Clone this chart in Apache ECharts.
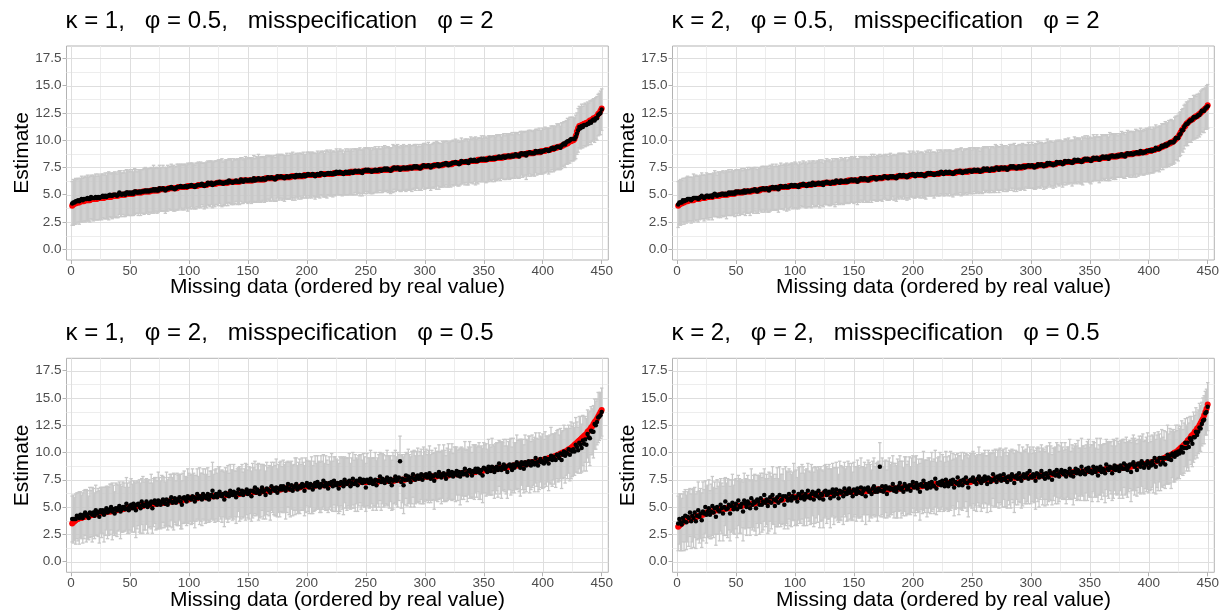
<!DOCTYPE html>
<html>
<head>
<meta charset="utf-8">
<script src="https://cdn.jsdelivr.net/npm/echarts@6/dist/echarts.min.js"></script>
<style>
html, body { margin: 0; padding: 0; background: #ffffff; }
#chart { width: 1231px; height: 612px; }
</style>
</head>
<body>
<div id="chart"></div>
<script>
// Panel headings
const panelTitles = [
  'κ = 1,   φ = 0.5,   misspecification   φ = 2',
  'κ = 2,   φ = 0.5,   misspecification   φ = 2',
  'κ = 1,   φ = 2,   misspecification   φ = 0.5',
  'κ = 2,   φ = 2,   misspecification   φ = 0.5'
];
const xTitle = 'Missing data (ordered by real value)';
const yTitle = 'Estimate';

// Tick positions (labelled) and minor grid positions
const xTicks = [0, 50, 100, 150, 200, 250, 300, 350, 400, 450];
const xMinorTicks = [25, 75, 125, 175, 225, 275, 325, 375, 425];
const yTicks = [0, 2.5, 5, 7.5, 10, 12.5, 15, 17.5];
const yMinorTicks = [1.25, 3.75, 6.25, 8.75, 11.25, 13.75, 16.25];

// ---- kappa = 1, phi = 0.5 ----
// real values of the 450 missing sites, in increasing order
const real1 = [
4.0,4.1,4.2,4.2,4.3,4.3,4.3,4.4,4.4,4.4,4.4,4.5,4.5,4.5,4.5,4.5,4.6,4.6,4.6,4.6,4.6,4.6,4.7,4.7,4.7,
4.7,4.7,4.7,4.8,4.8,4.8,4.8,4.8,4.8,4.9,4.9,4.9,4.9,4.9,4.9,5.0,5.0,5.0,5.0,5.0,5.0,5.1,5.1,5.1,5.1,
5.1,5.1,5.1,5.2,5.2,5.2,5.2,5.2,5.2,5.2,5.3,5.3,5.3,5.3,5.3,5.3,5.3,5.4,5.4,5.4,5.4,5.4,5.4,5.4,5.5,
5.5,5.5,5.5,5.5,5.5,5.5,5.5,5.6,5.6,5.6,5.6,5.6,5.6,5.6,5.6,5.7,5.7,5.7,5.7,5.7,5.7,5.7,5.7,5.8,5.8,
5.8,5.8,5.8,5.8,5.8,5.8,5.8,5.9,5.9,5.9,5.9,5.9,5.9,5.9,5.9,6.0,6.0,6.0,6.0,6.0,6.0,6.0,6.0,6.1,6.1,
6.1,6.1,6.1,6.1,6.1,6.1,6.1,6.1,6.2,6.2,6.2,6.2,6.2,6.2,6.2,6.2,6.2,6.2,6.3,6.3,6.3,6.3,6.3,6.3,6.3,
6.3,6.3,6.3,6.3,6.4,6.4,6.4,6.4,6.4,6.4,6.4,6.4,6.4,6.4,6.5,6.5,6.5,6.5,6.5,6.5,6.5,6.5,6.5,6.5,6.6,
6.6,6.6,6.6,6.6,6.6,6.6,6.6,6.6,6.6,6.6,6.6,6.7,6.7,6.7,6.7,6.7,6.7,6.7,6.7,6.7,6.7,6.7,6.8,6.8,6.8,
6.8,6.8,6.8,6.8,6.8,6.8,6.8,6.8,6.8,6.8,6.8,6.9,6.9,6.9,6.9,6.9,6.9,6.9,6.9,6.9,6.9,6.9,7.0,7.0,7.0,
7.0,7.0,7.0,7.0,7.0,7.0,7.0,7.0,7.0,7.0,7.0,7.1,7.1,7.1,7.1,7.1,7.1,7.1,7.1,7.1,7.1,7.1,7.2,7.2,7.2,
7.2,7.2,7.2,7.2,7.2,7.2,7.2,7.2,7.2,7.2,7.2,7.3,7.3,7.3,7.3,7.3,7.3,7.3,7.3,7.3,7.3,7.3,7.4,7.4,7.4,
7.4,7.4,7.4,7.4,7.4,7.4,7.4,7.4,7.4,7.4,7.4,7.5,7.5,7.5,7.5,7.5,7.5,7.5,7.5,7.5,7.5,7.5,7.6,7.6,7.6,
7.6,7.6,7.6,7.6,7.6,7.6,7.6,7.7,7.7,7.7,7.7,7.7,7.7,7.7,7.7,7.8,7.8,7.8,7.8,7.8,7.8,7.8,7.8,7.9,7.9,
7.9,7.9,7.9,7.9,7.9,8.0,8.0,8.0,8.0,8.0,8.0,8.0,8.1,8.1,8.1,8.1,8.1,8.1,8.1,8.2,8.2,8.2,8.2,8.2,8.2,
8.2,8.2,8.3,8.3,8.3,8.3,8.3,8.3,8.3,8.4,8.4,8.4,8.4,8.4,8.4,8.4,8.5,8.5,8.5,8.5,8.5,8.5,8.5,8.6,8.6,
8.6,8.6,8.6,8.6,8.6,8.7,8.7,8.7,8.7,8.7,8.7,8.8,8.8,8.8,8.8,8.8,8.8,8.9,8.9,8.9,8.9,8.9,8.9,9.0,9.0,
9.0,9.0,9.1,9.1,9.1,9.1,9.2,9.2,9.2,9.3,9.3,9.3,9.4,9.4,9.4,9.5,9.5,9.6,9.6,9.7,9.7,9.8,9.9,9.9,10.0,
10.0,10.1,10.4,10.8,11.1,11.3,11.3,11.4,11.4,11.5,11.5,11.6,11.6,11.7,11.8,11.8,11.9,12.0,12.0,12.1,12.2,12.4,12.5,12.7,12.9
];
// estimate minus real value, in tenths
const resid1 = [
2,2,1,2,1,2,1,1,2,1,2,1,1,2,1,1,2,1,1,1,2,1,1,0,1,
1,2,1,1,0,1,1,2,1,0,1,1,1,0,1,2,1,0,1,1,0,1,1,0,1,
0,1,0,1,1,0,0,1,0,1,0,0,1,0,1,0,1,0,0,1,0,1,0,0,1,
0,0,1,0,-1,0,1,0,0,1,0,0,-1,0,1,0,0,1,0,0,0,1,0,-1,0,
0,1,0,0,-1,0,1,0,0,0,1,0,-1,0,0,1,0,0,1,-1,0,0,1,0,0,
1,0,0,-1,0,0,1,0,1,0,0,-1,0,0,1,0,0,0,1,0,-1,0,1,0,0,
0,1,0,0,1,-1,0,0,1,0,0,0,1,0,-1,0,1,0,0,1,0,0,-1,0,1,
0,0,1,0,0,-1,0,1,0,0,1,0,0,0,-1,1,0,0,1,0,0,1,0,-1,0,
1,0,0,0,1,0,-1,0,1,0,0,1,0,0,-1,0,0,1,0,1,0,0,0,-1,1,
0,0,1,0,0,-1,0,1,0,1,0,0,0,-1,0,1,0,0,1,0,0,-1,0,0,1,
0,1,0,0,-1,0,0,1,0,0,1,0,-1,0,0,1,0,1,0,0,-1,0,0,1,0,
0,1,0,-1,0,0,1,0,0,1,0,0,0,-1,0,1,0,1,0,0,-1,0,0,1,0,
0,0,1,0,-1,0,1,0,0,0,1,-1,0,0,1,0,0,1,0,-1,0,0,1,0,0,
1,0,0,-1,0,1,0,0,0,1,0,-1,0,1,0,0,1,0,0,-1,0,0,1,0,1,
0,0,-1,0,1,0,0,1,0,-1,0,0,1,0,0,1,0,-1,0,0,1,0,0,0,-1,
0,1,0,0,-1,0,1,0,0,1,-1,0,0,1,0,0,0,-1,1,0,0,1,0,-1,0,
0,1,0,0,-1,0,0,1,0,-1,0,1,0,0,-1,0,1,1,0,1,2,1,1,2,1,
1,0,-1,-2,-2,-1,-2,-1,-2,-1,-1,-2,-1,-2,-1,-2,-1,-1,-2,-1,-2,-1,-1,-2,-1
];
// half length of each interval, in tenths
const half1 = [
20,21,20,21,20,20,21,20,21,20,20,21,20,21,20,21,20,20,21,20,21,20,21,20,20,
21,20,20,21,20,21,22,20,20,21,20,21,20,20,21,20,21,20,19,21,20,21,20,20,21,
20,21,20,21,20,19,21,20,21,20,20,21,21,20,20,21,20,21,20,22,20,20,21,20,21,
20,20,21,20,21,20,21,19,20,21,20,21,20,20,21,21,20,20,21,20,21,20,20,22,20,
21,20,21,20,20,21,20,21,20,21,19,20,21,20,21,20,20,21,20,21,20,21,20,20,21,
20,21,22,20,20,21,20,21,20,20,21,20,21,20,19,21,20,21,20,21,20,20,21,20,21,
20,20,21,20,21,20,21,20,22,20,21,20,20,21,20,21,20,20,21,19,20,21,20,21,20,
21,20,20,21,20,21,20,21,20,20,21,20,22,20,21,20,20,21,20,21,20,21,19,20,21,
20,21,20,21,20,20,21,20,21,20,21,20,20,21,20,21,22,20,20,21,20,21,20,20,21,
20,20,21,20,21,19,20,21,20,21,20,20,21,20,21,20,21,20,20,22,20,21,20,21,20,
21,20,20,21,20,21,20,21,20,20,21,19,20,21,20,21,20,20,21,20,21,20,22,20,21,
20,21,20,20,21,20,21,20,21,20,20,21,20,21,20,20,21,20,19,21,20,21,20,20,21,
20,20,21,20,21,20,20,21,20,22,20,21,20,20,21,20,21,20,21,20,20,21,20,21,20,
21,20,21,20,20,21,20,19,21,20,21,20,20,21,20,21,20,22,20,21,20,20,21,20,21,
20,21,20,21,20,20,21,20,21,20,21,20,20,21,19,20,21,20,21,20,20,21,20,21,20,
21,20,20,21,20,21,20,21,20,20,22,20,21,20,21,20,20,21,20,21,20,21,20,20,21,
20,21,20,20,21,20,21,20,21,20,20,21,20,21,20,21,20,20,21,20,21,20,21,20,20,
20,19,20,19,20,19,19,20,19,19,20,19,20,19,19,20,19,19,20,19,20,19,19,20,19
];

// ---- kappa = 2, phi = 0.5 ----
const real2 = [
4.0,4.1,4.2,4.2,4.3,4.3,4.4,4.4,4.4,4.5,4.5,4.5,4.5,4.5,4.6,4.6,4.6,4.6,4.6,4.7,4.7,4.7,4.7,4.7,4.8,
4.8,4.8,4.8,4.8,4.8,4.9,4.9,4.9,4.9,4.9,4.9,5.0,5.0,5.0,5.0,5.0,5.0,5.0,5.1,5.1,5.1,5.1,5.1,5.1,5.2,
5.2,5.2,5.2,5.2,5.2,5.2,5.3,5.3,5.3,5.3,5.3,5.3,5.3,5.4,5.4,5.4,5.4,5.4,5.4,5.4,5.5,5.5,5.5,5.5,5.5,
5.5,5.5,5.5,5.6,5.6,5.6,5.6,5.6,5.6,5.6,5.6,5.7,5.7,5.7,5.7,5.7,5.7,5.7,5.7,5.8,5.8,5.8,5.8,5.8,5.8,
5.8,5.8,5.8,5.8,5.9,5.9,5.9,5.9,5.9,5.9,5.9,5.9,5.9,5.9,6.0,6.0,6.0,6.0,6.0,6.0,6.0,6.0,6.0,6.0,6.1,
6.1,6.1,6.1,6.1,6.1,6.1,6.1,6.1,6.1,6.2,6.2,6.2,6.2,6.2,6.2,6.2,6.2,6.2,6.2,6.3,6.3,6.3,6.3,6.3,6.3,
6.3,6.3,6.3,6.3,6.4,6.4,6.4,6.4,6.4,6.4,6.4,6.4,6.4,6.4,6.5,6.5,6.5,6.5,6.5,6.5,6.5,6.5,6.5,6.5,6.6,
6.6,6.6,6.6,6.6,6.6,6.6,6.6,6.6,6.6,6.6,6.6,6.7,6.7,6.7,6.7,6.7,6.7,6.7,6.7,6.7,6.7,6.7,6.8,6.8,6.8,
6.8,6.8,6.8,6.8,6.8,6.8,6.8,6.8,6.8,6.8,6.8,6.9,6.9,6.9,6.9,6.9,6.9,6.9,6.9,6.9,6.9,6.9,7.0,7.0,7.0,
7.0,7.0,7.0,7.0,7.0,7.0,7.0,7.0,7.0,7.0,7.0,7.1,7.1,7.1,7.1,7.1,7.1,7.1,7.1,7.1,7.1,7.1,7.2,7.2,7.2,
7.2,7.2,7.2,7.2,7.2,7.2,7.2,7.2,7.2,7.3,7.3,7.3,7.3,7.3,7.3,7.3,7.3,7.3,7.3,7.4,7.4,7.4,7.4,7.4,7.4,
7.4,7.4,7.4,7.4,7.4,7.4,7.5,7.5,7.5,7.5,7.5,7.5,7.5,7.5,7.5,7.5,7.5,7.5,7.6,7.6,7.6,7.6,7.6,7.6,7.6,
7.6,7.6,7.6,7.6,7.6,7.7,7.7,7.7,7.7,7.7,7.7,7.7,7.7,7.8,7.8,7.8,7.8,7.8,7.8,7.8,7.8,7.9,7.9,7.9,7.9,
7.9,7.9,7.9,8.0,8.0,8.0,8.0,8.0,8.0,8.0,8.0,8.1,8.1,8.1,8.1,8.1,8.1,8.1,8.1,8.2,8.2,8.2,8.2,8.2,8.2,
8.2,8.2,8.3,8.3,8.3,8.3,8.3,8.3,8.3,8.4,8.4,8.4,8.4,8.4,8.4,8.4,8.5,8.5,8.5,8.5,8.5,8.5,8.5,8.6,8.6,
8.6,8.6,8.6,8.6,8.6,8.7,8.7,8.7,8.7,8.7,8.7,8.8,8.8,8.8,8.8,8.8,8.8,8.9,8.9,8.9,8.9,8.9,8.9,9.0,9.0,
9.0,9.0,9.1,9.1,9.1,9.2,9.2,9.2,9.3,9.3,9.4,9.4,9.5,9.5,9.6,9.6,9.7,9.7,9.8,9.8,9.9,10.0,10.1,10.2,10.3,
10.5,10.7,10.9,11.0,11.2,11.3,11.5,11.6,11.7,11.8,11.9,11.9,12.0,12.1,12.2,12.2,12.3,12.4,12.5,12.6,12.7,12.8,12.9,13.0,13.2
];
const resid2 = [
1,2,1,1,2,1,1,1,2,1,1,0,1,2,1,1,1,0,1,1,2,1,0,1,1,
1,0,1,1,0,1,2,1,0,1,1,0,1,1,0,1,0,1,1,0,1,0,1,0,1,
0,1,0,0,1,0,1,-1,0,1,0,0,1,0,0,1,0,-1,0,1,0,0,1,0,0,
1,0,-1,0,0,1,0,0,1,0,-1,0,1,0,0,0,1,0,0,-1,0,1,0,0,1,
0,0,-1,1,0,0,1,0,0,-1,0,1,0,0,1,0,-1,0,0,1,0,0,1,-1,0,
0,1,0,0,-1,0,1,0,0,1,0,0,-1,1,0,0,0,1,0,-1,0,0,1,0,0,
1,0,-1,0,0,1,0,0,1,0,0,-1,0,1,0,0,1,0,-1,0,0,1,0,0,0,
1,0,0,-1,0,1,0,1,0,0,-1,0,0,1,0,0,1,0,0,-1,0,1,0,0,1,
0,-1,0,1,0,0,1,0,0,-1,0,0,1,0,1,0,0,-1,0,0,1,0,0,1,0,
-1,0,1,0,0,1,0,0,-1,0,1,0,0,0,1,0,-1,0,0,1,0,1,0,0,-1,
0,1,0,0,1,0,-1,0,0,1,0,0,1,0,-1,0,1,0,0,0,1,0,-1,0,1,
0,0,1,0,-1,0,0,1,0,1,0,0,-1,0,1,0,0,1,0,-1,0,0,1,0,0,
1,0,-1,0,0,1,0,0,1,0,-1,0,0,1,0,1,0,0,-1,0,0,1,0,0,1,
0,-1,0,1,0,0,1,0,0,-1,0,1,0,0,1,0,0,-1,0,0,1,0,1,0,0,
-1,0,1,0,0,1,0,-1,0,0,1,0,0,1,0,-1,0,0,1,0,0,0,1,-1,0,
0,1,0,0,-1,0,1,0,0,1,0,-1,0,0,1,0,0,1,0,-1,0,0,1,0,0,
1,0,-1,0,0,1,0,0,-1,0,1,0,0,1,-1,0,0,1,0,0,-1,0,1,0,-1,
0,-1,0,-1,0,1,0,-1,0,0,-1,0,1,0,-1,0,0,-1,0,1,0,-1,0,0,-1
];
const half2 = [
21,20,21,20,20,21,20,21,21,20,20,21,20,22,20,21,20,21,20,20,21,20,21,20,21,
20,21,20,20,21,20,21,20,19,21,20,21,20,21,20,20,22,20,21,20,21,20,20,21,20,
21,20,21,20,21,20,20,21,20,21,20,22,20,20,21,20,21,20,21,19,20,21,20,21,20,
20,21,20,21,20,21,20,20,21,20,21,20,21,20,20,21,20,22,20,21,20,20,21,20,21,
21,20,20,21,19,20,21,20,21,20,20,21,20,21,20,21,20,20,21,20,22,20,21,20,20,
20,21,20,21,20,20,21,20,22,20,21,20,20,21,20,21,20,21,19,20,21,20,21,20,21,
21,20,21,20,21,20,20,21,20,21,20,20,21,20,22,20,21,20,20,21,20,21,20,21,20,
20,20,21,20,21,21,20,19,21,20,21,20,21,20,20,21,20,21,20,21,20,22,20,20,21,
21,20,20,21,20,21,20,21,20,20,22,20,21,20,21,20,20,21,20,19,21,20,21,20,20,
20,21,20,20,21,20,21,20,21,20,20,21,20,21,20,22,20,21,20,20,21,20,21,21,20,
21,20,21,20,20,21,19,20,21,20,21,20,20,21,20,21,20,21,20,22,20,20,21,20,21,
20,21,20,21,20,20,21,20,21,20,22,20,21,20,20,21,20,21,20,21,19,20,21,20,20,
21,20,20,21,20,21,20,21,20,20,21,20,21,22,20,20,21,20,21,20,21,20,20,21,20,
20,21,20,20,21,20,21,20,19,21,20,21,20,21,20,20,21,20,22,20,21,20,21,20,21,
21,20,21,20,20,21,20,21,20,21,20,20,21,20,21,20,22,20,20,21,20,21,20,19,20,
20,21,20,21,20,20,21,20,21,20,21,20,20,22,20,21,20,21,20,20,21,20,21,20,21,
21,20,20,21,20,21,20,20,21,20,20,21,20,21,20,20,21,20,21,20,20,21,20,20,21,
20,20,19,20,20,19,20,20,19,20,20,19,20,20,19,20,19,20,20,19,20,20,19,20,20
];

// ---- kappa = 1, phi = 2 ----
const real3 = [
3.5,3.6,3.7,3.8,3.9,3.9,4.0,4.0,4.0,4.1,4.1,4.1,4.2,4.2,4.2,4.2,4.3,4.3,4.3,4.3,4.4,4.4,4.4,4.4,4.5,
4.5,4.5,4.5,4.5,4.6,4.6,4.6,4.6,4.6,4.7,4.7,4.7,4.7,4.7,4.8,4.8,4.8,4.8,4.8,4.9,4.9,4.9,4.9,4.9,5.0,
5.0,5.0,5.0,5.0,5.0,5.1,5.1,5.1,5.1,5.1,5.1,5.2,5.2,5.2,5.2,5.2,5.2,5.3,5.3,5.3,5.3,5.3,5.3,5.4,5.4,
5.4,5.4,5.4,5.4,5.4,5.5,5.5,5.5,5.5,5.5,5.5,5.5,5.6,5.6,5.6,5.6,5.6,5.6,5.6,5.7,5.7,5.7,5.7,5.7,5.7,
5.8,5.8,5.8,5.8,5.8,5.8,5.8,5.9,5.9,5.9,5.9,5.9,5.9,5.9,5.9,6.0,6.0,6.0,6.0,6.0,6.0,6.0,6.0,6.1,6.1,
6.1,6.1,6.1,6.1,6.1,6.1,6.1,6.1,6.2,6.2,6.2,6.2,6.2,6.2,6.2,6.2,6.2,6.2,6.3,6.3,6.3,6.3,6.3,6.3,6.3,
6.3,6.3,6.3,6.4,6.4,6.4,6.4,6.4,6.4,6.4,6.4,6.5,6.5,6.5,6.5,6.5,6.5,6.5,6.5,6.6,6.6,6.6,6.6,6.6,6.6,
6.6,6.6,6.6,6.7,6.7,6.7,6.7,6.7,6.7,6.7,6.7,6.8,6.8,6.8,6.8,6.8,6.8,6.8,6.8,6.9,6.9,6.9,6.9,6.9,6.9,
6.9,6.9,6.9,6.9,6.9,6.9,7.0,7.0,7.0,7.0,7.0,7.0,7.0,7.0,7.0,7.0,7.0,7.0,7.1,7.1,7.1,7.1,7.1,7.1,7.1,
7.1,7.1,7.1,7.1,7.1,7.1,7.2,7.2,7.2,7.2,7.2,7.2,7.2,7.2,7.2,7.2,7.2,7.2,7.3,7.3,7.3,7.3,7.3,7.3,7.3,
7.3,7.3,7.3,7.3,7.3,7.3,7.3,7.3,7.3,7.3,7.4,7.4,7.4,7.4,7.4,7.4,7.4,7.4,7.4,7.4,7.4,7.4,7.4,7.4,7.5,
7.5,7.5,7.5,7.5,7.5,7.5,7.5,7.5,7.6,7.6,7.6,7.6,7.6,7.6,7.6,7.6,7.7,7.7,7.7,7.7,7.7,7.7,7.7,7.8,7.8,
7.8,7.8,7.8,7.8,7.8,7.8,7.8,7.8,7.8,7.8,7.9,7.9,7.9,7.9,7.9,7.9,7.9,7.9,7.9,7.9,8.0,8.0,8.0,8.0,8.0,
8.0,8.0,8.0,8.0,8.1,8.1,8.1,8.1,8.1,8.1,8.1,8.2,8.2,8.2,8.2,8.2,8.2,8.2,8.3,8.3,8.3,8.3,8.3,8.3,8.4,
8.4,8.4,8.4,8.4,8.4,8.4,8.5,8.5,8.5,8.5,8.5,8.5,8.6,8.6,8.6,8.6,8.6,8.6,8.7,8.7,8.7,8.7,8.7,8.7,8.8,
8.8,8.8,8.8,8.8,8.9,8.9,8.9,8.9,8.9,9.0,9.0,9.0,9.0,9.0,9.1,9.1,9.1,9.1,9.2,9.2,9.2,9.2,9.3,9.3,9.3,
9.3,9.4,9.4,9.4,9.5,9.5,9.5,9.6,9.6,9.6,9.7,9.7,9.8,9.8,9.9,9.9,10.0,10.0,10.1,10.1,10.2,10.3,10.3,10.4,10.5,
10.6,10.7,10.8,10.9,11.0,11.1,11.2,11.3,11.4,11.5,11.6,11.7,11.9,12.0,12.1,12.3,12.4,12.6,12.8,12.9,13.1,13.3,13.5,13.7,13.9
];
const resid3 = [
4,3,2,1,3,2,0,3,1,-1,2,4,0,1,-2,3,1,0,2,-1,3,0,1,-3,2,
0,2,-2,1,3,-1,0,2,4,-1,1,-3,2,0,1,3,-2,0,2,1,-1,4,0,-2,1,
2,-1,3,0,-3,1,2,0,-2,4,1,-1,0,3,-2,1,0,2,-4,1,3,0,-1,2,0,
-2,1,3,0,-1,2,-3,0,1,4,-1,0,2,-2,1,0,3,-1,-4,1,2,0,-2,3,1,
0,-1,2,1,-3,0,4,-1,1,0,-2,3,0,1,-1,2,-3,0,1,5,-1,0,2,-2,1,
3,0,-1,1,-4,2,0,1,-2,3,0,-1,2,0,-3,1,4,0,-1,2,-2,0,1,3,-1,
0,2,-3,1,0,4,-1,2,0,-2,1,3,-1,0,-4,2,1,0,-2,3,0,1,-1,2,-3,
1,0,3,-1,2,0,-2,1,4,0,-1,2,-3,0,1,3,-2,0,1,-1,2,0,-4,1,3,
0,-1,2,1,-3,0,2,-1,3,0,-2,1,0,4,-1,2,0,-3,1,0,2,-2,3,0,-1,
1,-4,0,2,1,-2,3,0,-1,1,2,-3,0,4,-1,0,2,-2,1,3,0,-1,2,0,-5,
2,0,-1,3,1,-2,0,2,-3,1,0,4,-1,2,0,-2,1,3,0,-1,2,-4,0,1,3,
-1,0,2,17,-2,1,-5,0,3,-1,2,0,-3,1,4,0,-2,1,2,-1,0,3,-2,1,0,
2,-1,0,3,-2,1,0,-4,2,1,-1,3,0,-2,1,2,0,-3,1,4,-1,0,2,-2,1,
0,3,-1,2,-3,0,1,-1,4,0,-2,1,2,0,-3,1,0,3,-1,2,0,-2,1,-4,2,
1,0,-2,3,0,-1,2,1,-3,0,2,-1,4,0,-2,1,3,-1,0,-5,1,2,0,-3,1,
-2,0,3,1,-1,-3,2,0,-4,1,-2,0,2,-1,-3,1,0,-2,3,-1,-4,0,1,-2,-1,
-3,1,-2,0,-5,-1,2,-3,0,-2,-4,1,-1,-3,0,-6,-2,1,-4,-1,-3,0,-5,-2,-4,
-3,-6,-1,-4,-8,-2,-5,-9,-3,-7,-4,-10,-2,-6,-8,-3,-5,-7,-2,-4,-3,-1,-2,-3,-2
];
const half3 = [
21,22,20,23,21,22,24,21,20,23,22,21,24,22,20,23,21,25,22,21,23,20,22,24,21,
23,21,25,22,20,24,22,23,21,26,22,20,23,24,21,22,25,21,23,22,20,24,23,21,22,
24,22,21,23,25,22,20,24,23,21,26,22,23,21,24,22,20,25,23,22,21,24,22,26,23,
22,24,21,23,20,25,23,22,24,21,23,26,22,20,24,23,21,25,22,23,24,21,22,25,23,
21,23,25,22,24,21,23,20,26,22,24,23,21,25,22,24,21,23,22,26,21,24,23,22,25,
23,22,24,21,25,23,22,26,21,24,22,23,25,21,24,22,20,25,23,24,21,22,26,23,22,
24,21,23,25,22,24,21,23,26,22,24,21,25,23,22,24,20,23,25,22,21,24,23,26,22,
22,25,23,21,24,22,26,23,21,24,25,22,23,21,26,24,22,23,25,21,24,22,23,25,21,
23,24,21,26,22,23,25,21,24,22,23,26,22,24,21,25,23,22,24,21,26,23,22,25,24,
21,23,25,22,24,26,21,23,24,22,25,21,23,24,22,26,21,24,23,22,25,21,24,23,22,
24,22,23,26,21,24,22,25,23,21,24,22,26,23,24,21,22,25,23,24,21,23,26,22,24,
22,25,21,23,24,22,26,23,21,24,25,22,23,24,21,26,22,23,25,21,24,23,22,26,23,
23,21,24,25,22,23,21,26,24,22,23,25,21,24,22,26,23,21,24,25,22,23,26,21,24,
25,22,23,21,26,24,22,23,25,21,24,22,26,23,21,24,25,22,23,21,26,24,22,25,23,
22,24,21,25,23,22,26,21,24,23,22,25,21,24,26,22,23,21,25,24,22,23,26,21,24,
23,21,25,22,24,26,21,23,22,25,24,21,23,26,22,24,21,25,23,22,24,26,21,23,25,
22,24,23,21,25,22,26,24,21,23,25,22,24,21,23,26,22,24,25,21,23,22,24,26,23,
24,22,25,23,21,24,26,22,23,25,21,24,22,23,25,22,21,24,23,22,21,23,22,21,22
];

// ---- kappa = 2, phi = 2 ----
const real4 = [
3.2,3.3,3.4,3.5,3.6,3.7,3.7,3.8,3.8,3.9,3.9,4.0,4.0,4.0,4.1,4.1,4.1,4.2,4.2,4.2,4.3,4.3,4.4,4.4,4.5,
4.5,4.5,4.6,4.6,4.6,4.6,4.7,4.7,4.7,4.7,4.8,4.8,4.8,4.8,4.8,4.9,4.9,4.9,4.9,4.9,5.0,5.0,5.0,5.0,5.0,
5.1,5.1,5.1,5.1,5.1,5.2,5.2,5.2,5.2,5.2,5.3,5.3,5.3,5.3,5.3,5.4,5.4,5.4,5.4,5.4,5.4,5.5,5.5,5.5,5.5,
5.5,5.5,5.5,5.6,5.6,5.6,5.6,5.6,5.6,5.7,5.7,5.7,5.7,5.7,5.7,5.8,5.8,5.8,5.8,5.8,5.8,5.9,5.9,5.9,5.9,
5.9,5.9,5.9,6.0,6.0,6.0,6.0,6.0,6.0,6.0,6.0,6.0,6.0,6.1,6.1,6.1,6.1,6.1,6.1,6.1,6.1,6.1,6.1,6.2,6.2,
6.2,6.2,6.2,6.2,6.2,6.2,6.2,6.2,6.3,6.3,6.3,6.3,6.3,6.3,6.3,6.3,6.3,6.3,6.4,6.4,6.4,6.4,6.4,6.4,6.4,
6.4,6.4,6.4,6.4,6.4,6.4,6.5,6.5,6.5,6.5,6.5,6.5,6.5,6.5,6.5,6.5,6.5,6.5,6.6,6.6,6.6,6.6,6.6,6.6,6.6,
6.6,6.6,6.6,6.6,6.6,6.7,6.7,6.7,6.7,6.7,6.7,6.7,6.7,6.7,6.7,6.8,6.8,6.8,6.8,6.8,6.8,6.8,6.8,6.9,6.9,
6.9,6.9,6.9,6.9,6.9,6.9,6.9,6.9,7.0,7.0,7.0,7.0,7.0,7.0,7.0,7.0,7.0,7.0,7.1,7.1,7.1,7.1,7.1,7.1,7.1,
7.1,7.1,7.1,7.1,7.2,7.2,7.2,7.2,7.2,7.2,7.2,7.2,7.2,7.2,7.3,7.3,7.3,7.3,7.3,7.3,7.3,7.3,7.3,7.3,7.4,
7.4,7.4,7.4,7.4,7.4,7.4,7.4,7.4,7.5,7.5,7.5,7.5,7.5,7.5,7.5,7.5,7.5,7.5,7.6,7.6,7.6,7.6,7.6,7.6,7.6,
7.6,7.6,7.6,7.6,7.6,7.6,7.7,7.7,7.7,7.7,7.7,7.7,7.7,7.7,7.7,7.7,7.7,7.7,7.8,7.8,7.8,7.8,7.8,7.8,7.8,
7.8,7.8,7.8,7.8,7.8,7.9,7.9,7.9,7.9,7.9,7.9,7.9,7.9,7.9,7.9,8.0,8.0,8.0,8.0,8.0,8.0,8.0,8.0,8.0,8.1,
8.1,8.1,8.1,8.1,8.1,8.1,8.1,8.1,8.1,8.1,8.2,8.2,8.2,8.2,8.2,8.2,8.2,8.2,8.2,8.2,8.3,8.3,8.3,8.3,8.3,
8.3,8.3,8.3,8.3,8.3,8.4,8.4,8.4,8.4,8.4,8.4,8.4,8.4,8.5,8.5,8.5,8.5,8.5,8.5,8.5,8.5,8.6,8.6,8.6,8.6,
8.6,8.6,8.6,8.6,8.7,8.7,8.7,8.7,8.7,8.7,8.8,8.8,8.8,8.8,8.8,8.8,8.9,8.9,8.9,8.9,8.9,8.9,9.0,9.0,9.0,
9.0,9.1,9.1,9.1,9.2,9.2,9.2,9.3,9.3,9.3,9.4,9.4,9.5,9.5,9.6,9.6,9.7,9.7,9.8,9.8,9.9,10.0,10.0,10.1,10.2,
10.3,10.4,10.5,10.6,10.7,10.8,10.9,11.1,11.2,11.3,11.5,11.6,11.7,11.9,12.0,12.2,12.3,12.5,12.7,12.9,13.1,13.4,13.7,14.0,14.4
];
const resid4 = [
3,6,2,-1,4,0,5,-2,3,1,6,-3,2,0,4,-4,1,5,-1,2,-5,3,0,6,-2,
1,4,-3,0,5,-1,2,-6,3,0,-2,4,1,-4,2,6,-1,0,3,-5,1,4,-2,0,3,
-3,5,0,-1,2,-6,4,1,-2,3,0,-4,5,-1,2,0,-5,3,1,-2,4,-3,0,6,-1,
2,-4,0,3,-2,5,1,-5,0,2,-3,4,-1,0,3,-6,2,1,-2,4,0,-3,1,5,-1,
0,-4,3,1,-2,4,0,-3,2,-1,5,0,-2,1,3,-4,0,2,-1,4,-3,1,0,-5,2,
3,-1,0,2,-4,1,4,-2,0,3,-1,-5,2,0,1,-3,4,0,-2,1,3,-1,0,-4,2,
1,-2,3,0,-1,4,-3,0,2,-5,1,3,-1,0,-3,2,4,-1,0,-2,1,21,-1,3,-2,
0,3,-4,1,2,-1,0,4,-2,1,-3,0,2,5,-1,0,-4,3,1,-2,0,2,-3,1,4,
-1,0,3,-2,1,-5,2,0,4,-1,1,-3,0,2,-2,3,0,-1,5,-4,1,0,2,-1,3,
0,-2,4,1,-3,0,2,-1,3,-4,1,0,5,-2,0,1,-3,2,0,4,-1,-5,1,2,0,
3,-1,0,-3,2,4,0,-2,1,-1,3,0,-4,2,1,-2,0,5,-1,1,-3,2,0,3,-2,
0,4,-1,1,-3,2,0,-2,3,1,-5,0,2,-1,4,0,-3,1,2,-1,0,3,-2,5,0,
-1,2,0,-4,3,1,-2,0,4,-1,1,-3,2,0,-2,3,1,-5,0,2,-1,4,0,-2,1,
3,0,-1,2,-3,1,0,4,-2,1,-4,0,3,-1,2,0,-2,5,1,-1,-3,2,0,3,-1,
0,-2,4,1,-1,2,-5,0,3,-2,1,0,-3,4,0,-1,2,1,-4,0,3,-2,1,0,-3,
2,0,-1,4,-2,1,-3,0,2,-5,1,3,-1,0,-4,2,0,-2,3,1,-3,0,-1,2,-4,
0,-3,1,-2,3,-5,0,-1,2,-4,1,-3,0,-6,-1,2,-3,0,-5,1,-2,-4,0,-3,-1,
-4,-2,0,-6,-3,1,-5,-2,-7,0,-4,-8,-3,-5,-1,-6,-4,-2,-5,-3,-2,-4,-1,-3,-2
];
const half4 = [
25,23,26,24,22,27,24,25,23,26,22,25,24,27,23,25,22,26,24,23,25,27,22,24,26,
24,26,22,25,27,23,24,26,25,22,27,24,23,25,26,22,24,27,23,25,24,26,22,25,23,
26,23,25,24,22,27,25,23,26,24,22,25,27,23,24,26,25,22,24,27,23,25,26,24,22,
23,25,27,22,24,26,23,25,24,27,22,26,24,23,25,22,27,24,26,23,25,24,22,26,25,
25,22,24,26,23,25,27,24,22,26,25,23,24,27,22,25,26,23,24,22,27,25,23,26,24,
24,26,23,25,27,22,24,26,23,25,24,22,27,25,23,26,24,22,25,27,23,24,26,22,25,
22,25,26,24,23,27,25,22,24,26,23,25,27,24,22,25,26,23,24,27,25,22,24,26,23,
26,24,22,25,27,23,24,26,25,22,24,27,23,25,26,24,22,25,27,23,24,26,22,25,24,
23,27,25,22,24,26,23,25,27,24,22,26,25,23,24,27,22,25,26,24,23,25,27,22,24,
25,22,26,24,23,25,27,22,24,26,25,23,22,27,24,26,23,25,24,22,26,27,23,24,25,
24,26,23,25,22,27,24,26,23,25,24,22,26,25,23,27,24,22,25,26,23,24,27,25,22,
26,23,25,27,24,22,25,26,23,24,27,25,22,24,26,23,25,27,22,24,25,26,23,22,25,
22,25,24,26,23,25,27,22,24,26,23,25,24,27,22,26,25,23,24,22,26,25,27,23,24,
25,24,22,26,25,23,24,27,22,25,26,24,23,25,27,22,24,26,23,25,24,22,27,26,23,
24,26,23,25,22,27,24,23,26,25,22,24,27,23,25,26,22,24,25,27,23,22,26,24,25,
23,25,27,22,24,26,25,23,22,27,24,25,26,23,24,22,26,25,23,27,24,22,25,26,23,
25,22,24,26,23,25,24,27,22,24,26,23,25,22,24,27,23,25,26,22,24,23,25,22,24,
23,22,24,21,23,22,21,23,22,20,22,21,23,20,22,21,20,22,21,20,21,22,20,21,22
];

// ---------------------------------------------------------------------------
const FONT = '"Liberation Sans", Arial, Helvetica, sans-serif';
const PANEL_W = 541.8, PANEL_H = 214;
const COL_LEFT = [66.5, 672.5];
const ROW_TOP = [46, 358.3];
const X_RANGE = [-3.8, 455.6];
const Y_RANGE = [-0.98, 18.63];

const MAJOR = { stroke: '#dedede', lineWidth: 1 };
const MINOR = { stroke: '#ededed', lineWidth: 1 };
const BAR = { stroke: '#c8c8c8', lineWidth: 1.3 };

const panels = [
  { title: panelTitles[0], real: real1, resid: resid1, half: half1 },
  { title: panelTitles[1], real: real2, resid: resid2, half: half2 },
  { title: panelTitles[2], real: real3, resid: resid3, half: half3 },
  { title: panelTitles[3], real: real4, resid: resid4, half: half4 }
];

// background grid drawn through the axis scales
function drawGridLines(params, api) {
  const cs = params.coordSys;
  const top = cs.y, bottom = cs.y + cs.height, left = cs.x, right = cs.x + cs.width;
  const out = [];
  const vline = (v, style) => {
    const x = Math.round(api.coord([v, 0])[0]) + 0.5;
    out.push({ type: 'line', shape: { x1: x, y1: top, x2: x, y2: bottom }, style });
  };
  const hline = (v, style) => {
    const y = Math.round(api.coord([0, v])[1]) + 0.5;
    out.push({ type: 'line', shape: { x1: left, y1: y, x2: right, y2: y }, style });
  };
  xMinorTicks.forEach(v => vline(v, MINOR));
  yMinorTicks.forEach(v => hline(v, MINOR));
  xTicks.forEach(v => vline(v, MAJOR));
  yTicks.forEach(v => hline(v, MAJOR));
  return { type: 'group', children: out };
}

// vertical interval with small caps at both ends
function drawErrorBar(params, api) {
  const x = api.value(0);
  const lo = api.coord([x, api.value(1)]);
  const hi = api.coord([x, api.value(2)]);
  const c = 1.7;
  return {
    type: 'group',
    children: [
      { type: 'line', shape: { x1: lo[0], y1: lo[1], x2: hi[0], y2: hi[1] }, style: BAR },
      { type: 'line', shape: { x1: lo[0] - c, y1: lo[1], x2: lo[0] + c, y2: lo[1] }, style: BAR },
      { type: 'line', shape: { x1: hi[0] - c, y1: hi[1], x2: hi[0] + c, y2: hi[1] }, style: BAR }
    ]
  };
}

const grids = [], xAxes = [], yAxes = [], series = [], titles = [];

panels.forEach((p, k) => {
  const left = COL_LEFT[k % 2];
  const top = ROW_TOP[Math.floor(k / 2)];

  grids.push({
    left: left, top: top, width: PANEL_W, height: PANEL_H,
    show: true, backgroundColor: '#ffffff', borderColor: '#b3b3b3', borderWidth: 1
  });

  titles.push({
    text: p.title, left: left - 1, top: top - 36.5, padding: 0,
    textStyle: { fontFamily: FONT, fontSize: 24, fontWeight: 'normal', color: '#000000' }
  });

  xAxes.push({
    gridIndex: k, type: 'value', min: X_RANGE[0], max: X_RANGE[1],
    axisLine: { show: false, onZero: false },
    splitLine: { show: false },
    axisTick: { show: true, length: 4, customValues: xTicks, lineStyle: { color: '#b3b3b3', width: 1 } },
    axisLabel: { customValues: xTicks, margin: 4, fontFamily: FONT, fontSize: 13.5, color: '#4d4d4d' },
    name: xTitle, nameLocation: 'middle', nameGap: 17, nameMoveOverlap: false,
    nameTextStyle: { fontFamily: FONT, fontSize: 21, color: '#000000' }
  });

  yAxes.push({
    gridIndex: k, type: 'value', min: Y_RANGE[0], max: Y_RANGE[1],
    axisLine: { show: false, onZero: false },
    splitLine: { show: false },
    axisTick: { show: true, length: 4, customValues: yTicks, lineStyle: { color: '#b3b3b3', width: 1 } },
    axisLabel: { customValues: yTicks, margin: 5, fontFamily: FONT, fontSize: 13.5, color: '#4d4d4d',
                 formatter: v => Number(v).toFixed(1) },
    name: yTitle, nameLocation: 'middle', nameGap: 34, nameMoveOverlap: false,
    nameTextStyle: { fontFamily: FONT, fontSize: 21, color: '#000000' }
  });

  const realPts = p.real.map((v, i) => [i + 1, v]);
  const estPts = p.real.map((v, i) => [i + 1, +(v + p.resid[i] / 10).toFixed(2)]);
  const bars = estPts.map((e, i) => [e[0], +(e[1] - p.half[i] / 10).toFixed(2), +(e[1] + p.half[i] / 10).toFixed(2)]);

  series.push({
    type: 'custom', xAxisIndex: k, yAxisIndex: k, silent: true, z: 1,
    data: [[0, 0]], renderItem: drawGridLines
  });
  series.push({
    type: 'custom', xAxisIndex: k, yAxisIndex: k, silent: true, z: 2,
    data: bars, encode: { x: 0, y: [1, 2] }, renderItem: drawErrorBar
  });
  series.push({
    type: 'scatter', xAxisIndex: k, yAxisIndex: k, silent: true, z: 3,
    data: realPts, symbol: 'circle', symbolSize: 6,
    itemStyle: { color: '#ff0000', opacity: 1 }
  });
  series.push({
    type: 'scatter', xAxisIndex: k, yAxisIndex: k, silent: true, z: 4,
    data: estPts, symbol: 'circle', symbolSize: 4.5,
    itemStyle: { color: '#000000', opacity: 1 }
  });
});

const chart = echarts.init(document.getElementById('chart'), null, { renderer: 'canvas' });
chart.setOption({
  animation: false,
  backgroundColor: '#ffffff',
  title: titles,
  grid: grids,
  xAxis: xAxes,
  yAxis: yAxes,
  series: series
});
</script>
</body>
</html>
